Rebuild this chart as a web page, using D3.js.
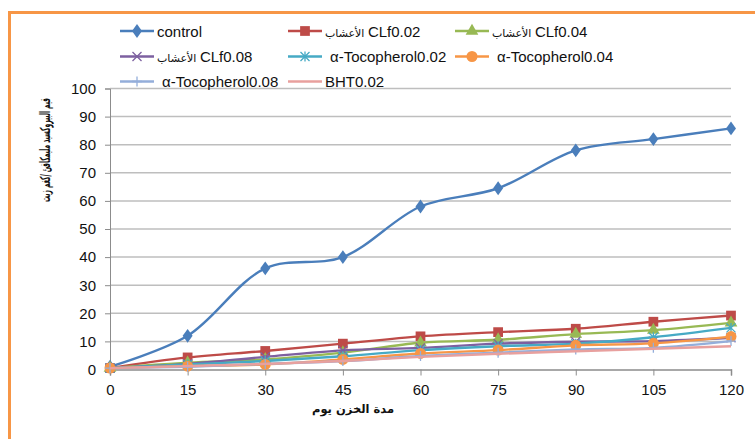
<!DOCTYPE html>
<html>
<head>
<meta charset="utf-8">
<script src="https://cdn.jsdelivr.net/npm/d3@7/dist/d3.min.js"></script>
<style>
  html, body { margin: 0; padding: 0; background: #fff; }
  svg { display: block; font-family: "Liberation Sans", Arial, "DejaVu Sans", sans-serif; }
</style>
</head>
<body>
<svg id="chart" width="755" height="439"></svg>
<script>
// Storage time (days)
const days = [0, 15, 30, 45, 60, 75, 90, 105, 120];
const yTicks = [0, 10, 20, 30, 40, 50, 60, 70, 80, 90, 100];

// Peroxide value for each treatment
const control   = [1, 12, 36, 40, 58, 64.5, 78, 82, 85.8];
const clf002    = [0.5, 4.3, 6.6, 9.2, 11.8, 13.3, 14.5, 17, 19.2];
const clf004    = [0.5, 2.4, 3.6, 6, 9.5, 10.6, 12.6, 14, 16.6];
const clf008    = [0.5, 2, 4.5, 6.8, 7.7, 9.2, 9.9, 10.1, 11.3];
const toco002   = [0.5, 1.8, 3, 4.7, 6.9, 8.3, 9.2, 11.5, 14.8];
const toco004   = [0.5, 1.2, 1.8, 3.6, 5.7, 6.9, 8.6, 9.3, 11.7];
const toco008   = [0.5, 1, 2, 3, 4.8, 6, 7.1, 7.7, 10.1];
const bht002    = [0.5, 1.2, 2, 3, 4.5, 5.6, 6.5, 7.4, 8.3];

// Legend labels: optional Arabic prefix + Latin part
const seriesPrefix = ["", "الأعشاب", "الأعشاب", "الأعشاب", "", "", "", ""];
const seriesLabels = ["control", "CLf0.02", "CLf0.04", "CLf0.08", "α-Tocopherol0.02", "α-Tocopherol0.04", "α-Tocopherol0.08", "BHT0.02"];
const seriesValues = [control, clf002, clf004, clf008, toco002, toco004, toco008, bht002];
const seriesColors = ["#4A7EBB", "#BE4B48", "#98B954", "#7D60A0", "#46AAC5", "#F79646", "#94AEDA", "#E8A09E"];
const seriesMarkers = ["diamond", "square", "triangle", "x", "star", "circle", "plus", "none"];

const yTitle = "قيم البيروكسيد مليمكافئ /كغم زيت";
const xTitle = "مدة الخزن  يوم";

const svg = d3.select("#chart");

// Outer frame (top and left edges visible)
svg.append("path")
  .attr("d", "M9.5,445 V12.5 H760")
  .attr("fill", "none")
  .attr("stroke", "#F79646")
  .attr("stroke-width", 3);

const plot = { left: 110, right: 731, top: 88.5, bottom: 369.5 };

const x = d3.scaleLinear().domain([0, 120]).range([plot.left, plot.right]);
const y = d3.scaleLinear().domain([0, 100]).range([plot.bottom, plot.top]);

// Horizontal gridlines
svg.append("g")
  .selectAll("line")
  .data(yTicks.filter(v => v > 0))
  .join("line")
  .attr("x1", plot.left).attr("x2", plot.right)
  .attr("y1", d => y(d)).attr("y2", d => y(d))
  .attr("stroke", "#BEBEBE")
  .attr("stroke-width", 1.5);

// Y axis
const yAxis = svg.append("g")
  .attr("transform", `translate(${plot.left},0)`)
  .call(d3.axisLeft(y).tickValues(yTicks).tickSize(5).tickPadding(9));
yAxis.select(".domain").attr("stroke", "#8C8C8C").attr("stroke-width", 1);
yAxis.selectAll(".tick line").attr("stroke", "#8C8C8C");
yAxis.selectAll(".tick text")
  .attr("font-size", "15px")
  .attr("fill", "#111")
  .attr("font-family", "'Liberation Sans', Arial, sans-serif");

// X axis
const xAxis = svg.append("g")
  .attr("transform", `translate(0,${plot.bottom})`)
  .call(d3.axisBottom(x).tickValues(days).tickSize(6).tickPadding(9));
xAxis.select(".domain").attr("stroke", "#8C8C8C").attr("stroke-width", 1.5);
xAxis.selectAll(".tick line").attr("stroke", "#8C8C8C");
xAxis.selectAll(".tick text")
  .attr("font-size", "15px")
  .attr("fill", "#111")
  .attr("font-family", "'Liberation Sans', Arial, sans-serif");

// Axis titles: condensed along the baseline to a target length
function condensedTitle(cx, cy, angle, size, targetLen, str) {
  const g = svg.append("g").attr("transform", `translate(${cx},${cy}) rotate(${angle})`);
  const t = g.append("text")
    .attr("text-anchor", "middle")
    .attr("font-size", size)
    .attr("font-weight", "bold")
    .attr("font-family", "'DejaVu Sans', sans-serif")
    .attr("fill", "#111")
    .text(str);
  const natural = t.node().getComputedTextLength();
  t.attr("transform", `scale(${Math.min(1, targetLen / natural)},1)`);
  return t;
}
condensedTitle(353, 413, 0, "11.5px", 86, xTitle);
condensedTitle(50, 150, -90, "14px", 104, yTitle);

// Marker drawing
function drawMarker(g, type, color) {
  const sym = (t, s) => g.append("path").attr("d", d3.symbol().type(t).size(s)()).attr("fill", color);
  if (type === "diamond") sym(d3.symbolDiamond, 55).attr("transform", "scale(1.25,1)");
  else if (type === "square") sym(d3.symbolSquare, 95);
  else if (type === "triangle") sym(d3.symbolTriangle, 70);
  else if (type === "circle") sym(d3.symbolCircle, 95);
  else if (type === "x") {
    g.append("path").attr("d", "M-4.5,-4.5L4.5,4.5M-4.5,4.5L4.5,-4.5")
      .attr("stroke", color).attr("stroke-width", 1.3).attr("fill", "none");
  } else if (type === "star") {
    g.append("path").attr("d", "M-4.5,-4.5L4.5,4.5M-4.5,4.5L4.5,-4.5M0,-5V5")
      .attr("stroke", color).attr("stroke-width", 1.3).attr("fill", "none");
  } else if (type === "plus") {
    g.append("path").attr("d", "M-5,0H5M0,-5V5")
      .attr("stroke", color).attr("stroke-width", 1.3).attr("fill", "none");
  }
}

const line = d3.line()
  .x((d, i) => x(days[i]))
  .y(d => y(d))
  .curve(d3.curveCatmullRom.alpha(0.5));

const series = svg.append("g");
seriesValues.forEach((vals, si) => {
  const g = series.append("g");
  g.append("path")
    .attr("d", line(vals))
    .attr("fill", "none")
    .attr("stroke", seriesColors[si])
    .attr("stroke-width", 2.4)
    .attr("stroke-linejoin", "round");
  if (seriesMarkers[si] !== "none") {
    vals.forEach((v, i) => {
      const m = g.append("g").attr("transform", `translate(${x(days[i])},${y(v)})`);
      drawMarker(m, seriesMarkers[si], seriesColors[si]);
    });
  }
});

// Legend: three columns, three rows
const legendX = [120, 288, 455];
const legendY = [31, 56.5, 81.5];
const legend = svg.append("g");
seriesLabels.forEach((label, i) => {
  const col = i % 3, row = Math.floor(i / 3);
  const g = legend.append("g").attr("transform", `translate(${legendX[col]},${legendY[row]})`);
  g.append("line").attr("x1", 0).attr("x2", 34).attr("y1", 0).attr("y2", 0)
    .attr("stroke", seriesColors[i]).attr("stroke-width", 2.4);
  if (seriesMarkers[i] !== "none") {
    const m = g.append("g").attr("transform", "translate(17,0)");
    drawMarker(m, seriesMarkers[i], seriesColors[i]);
  }
  const t = g.append("text")
    .attr("x", label.startsWith("α") ? 42 : 37)
    .attr("y", 0)
    .attr("dy", "0.35em")
    .attr("fill", "#111");
  if (seriesPrefix[i]) {
    t.append("tspan")
      .attr("font-size", "11px")
      .attr("font-family", "'DejaVu Sans', sans-serif")
      .text(seriesPrefix[i] + " ");
  }
  t.append("tspan")
    .attr("font-size", "15px")
    .text(label);
});
</script>
</body>
</html>
